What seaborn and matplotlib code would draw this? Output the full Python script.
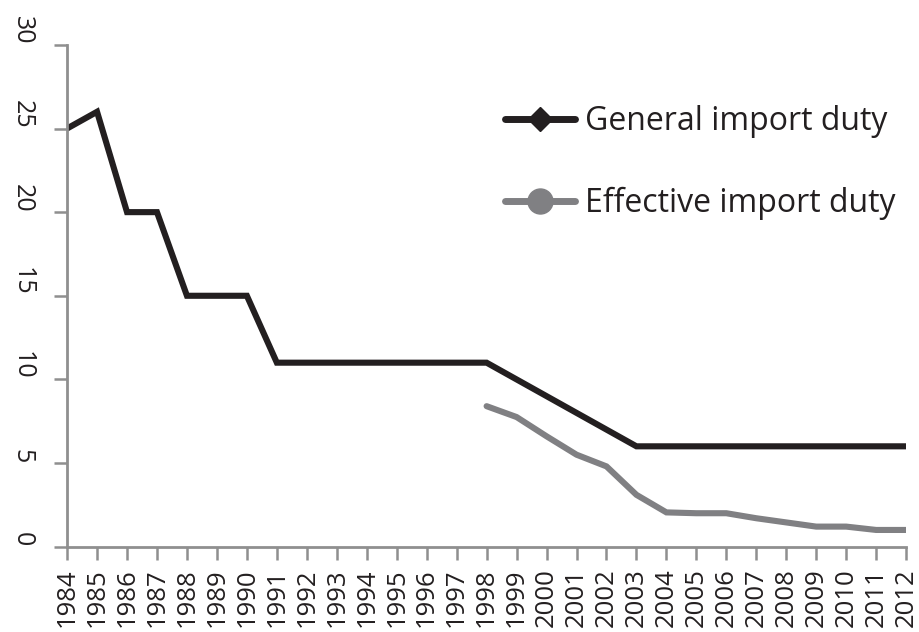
import numpy as np
import pandas as pd
import matplotlib
matplotlib.use('Agg')
import matplotlib.pyplot as plt
from matplotlib.lines import Line2D
import seaborn as sns

# values
years = list(range(1984, 2013))
general = [25, 26, 20, 20, 15, 15, 15, 11, 11, 11, 11, 11, 11, 11, 11,
           10, 9, 8, 7, 6, 6, 6, 6, 6, 6, 6, 6, 6, 6]
effective_years = list(range(1998, 2013))
effective = [8.4, 7.75, 6.6, 5.5, 4.8, 3.1, 2.05, 2.0, 2.0, 1.7, 1.45, 1.2, 1.2, 1.0, 1.0]
series_names = ['General import duty', 'Effective import duty']
y_ticks = [0, 5, 10, 15, 20, 25, 30]

df = pd.concat([
    pd.DataFrame({'Year': years, 'Duty': general, 'Series': series_names[0]}),
    pd.DataFrame({'Year': effective_years, 'Duty': effective, 'Series': series_names[1]}),
])

sns.set_style('white')
plt.rcParams['font.family'] = ['Open Sans', 'DejaVu Sans']

colors = {series_names[0]: '#231f20', series_names[1]: '#808083'}
axis_grey = '#8f8f8f'

fig = plt.figure(figsize=(9.19, 6.32), dpi=100)
ax = fig.add_axes([0.073, 0.135, 0.913, 0.794])
sns.lineplot(data=df, x='Year', y='Duty', hue='Series', palette=colors,
             linewidth=4.4, ax=ax, legend=False, solid_capstyle='round',
             solid_joinstyle='miter')

ax.set_xlim(1984, 2012)
ax.set_ylim(0, 30)
ax.set_xticks(years)
ax.set_xticklabels([str(y) for y in years], rotation=90, fontsize=18.5,
                   color='#231f20', va='top')
ax.set_yticks(y_ticks)
ax.set_yticklabels([str(v) for v in y_ticks], rotation=-90, fontsize=18,
                   color='#231f20', va='bottom', ha='right')
ax.set_xlabel('')
ax.set_ylabel('')

for side in ['top', 'right']:
    ax.spines[side].set_visible(False)
for side in ['left', 'bottom']:
    ax.spines[side].set_color(axis_grey)
    ax.spines[side].set_linewidth(2)
ax.tick_params(axis='both', direction='out', length=9.5, width=1.8, color=axis_grey,
               left=True, bottom=True)
ax.tick_params(axis='x', pad=6)
ax.tick_params(axis='y', pad=14)

handles = [
    Line2D([0], [0], color=colors[series_names[0]], lw=5, marker='D', markersize=12),
    Line2D([0], [0], color=colors[series_names[1]], lw=5, marker='o', markersize=18),
]
ax.legend(handles, series_names, frameon=False, loc='upper left',
          bbox_to_anchor=(505 / 919, 1 - 105 / 632), bbox_transform=fig.transFigure,
          borderpad=0, borderaxespad=0, fontsize=23, handlelength=2.2,
          labelspacing=1.52, handletextpad=0.3, labelcolor='#231f20')

fig.savefig('out.png', dpi=100)
